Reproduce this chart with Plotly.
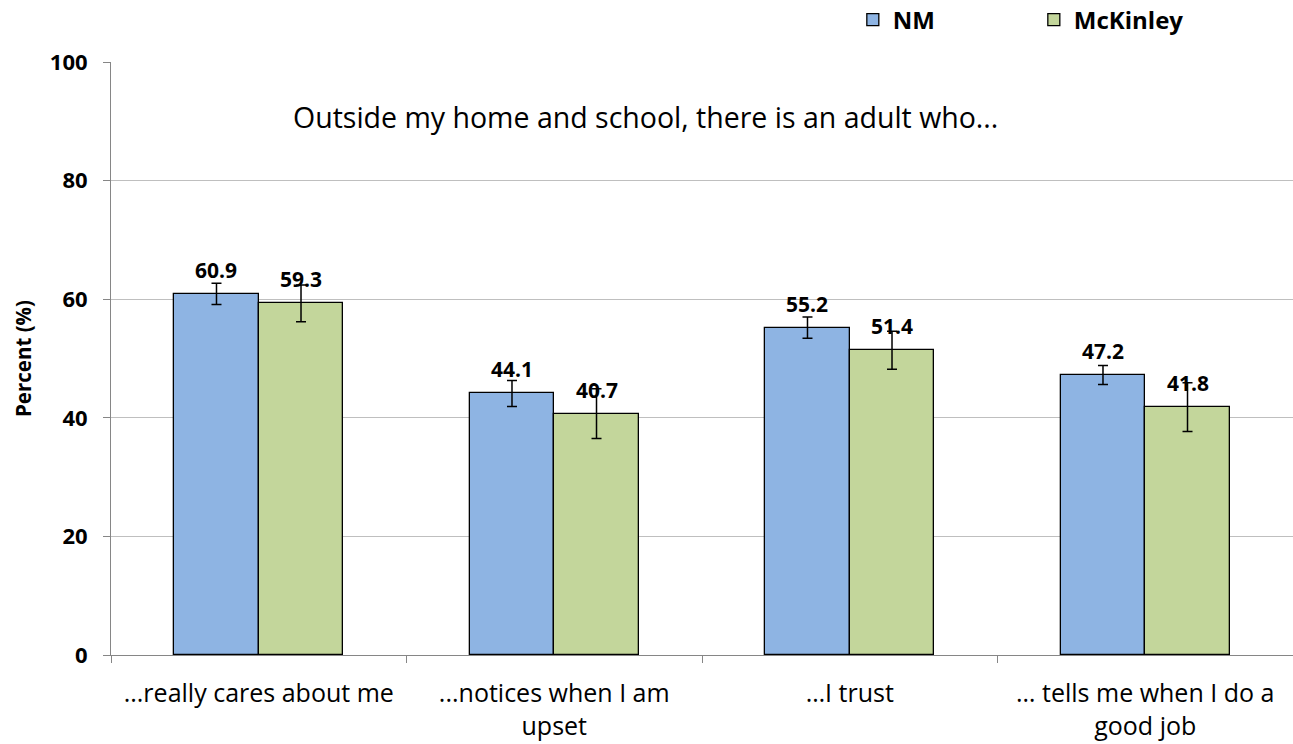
import plotly.graph_objects as go

categories = ["...really cares about me", "...notices when I am<br>upset", "…I trust", "… tells me when I do a<br>good job"]
nm_values = [60.9, 44.1, 55.2, 47.2]
nm_err = [1.8, 2.2, 1.8, 1.6]
mck_values = [59.3, 40.7, 51.4, 41.8]
mck_err = [3.1, 4.2, 3.2, 4.1]
y_ticks = [0, 20, 40, 60, 80, 100]
title_text = "Outside my home and school, there is an adult who..."

FONT = "Open Sans"
off = 0.143
w = 0.286
xs = list(range(len(categories)))

fig = go.Figure()
fig.add_trace(go.Bar(
    name="NM", x=[i - off for i in xs], y=nm_values, width=w,
    marker=dict(color="#8EB4E3", line=dict(color="black", width=1.3)),
    error_y=dict(type="data", array=nm_err, color="black", thickness=1.5, width=5),
))
fig.add_trace(go.Bar(
    name="McKinley", x=[i + off for i in xs], y=mck_values, width=w,
    marker=dict(color="#C3D69B", line=dict(color="black", width=1.3)),
    error_y=dict(type="data", array=mck_err, color="black", thickness=1.5, width=5),
))

for i in xs:
    for dx, v in ((-off, nm_values[i]), (off, mck_values[i])):
        fig.add_annotation(x=i + dx, y=v, text=f"<b>{v:.1f}</b>", showarrow=False,
                           yshift=24, font=dict(family=FONT, size=21, color="black"))

fig.add_annotation(x=0.452, xref="paper", y=90.7, yref="y", text=title_text, showarrow=False,
                   font=dict(family=FONT, size=28.5, color="black"))

fig.update_layout(
    width=1293, height=744,
    margin=dict(l=111, r=0, t=62, b=89, autoexpand=False),
    plot_bgcolor="white", paper_bgcolor="white",
    bargap=0, barmode="overlay",
    font=dict(family=FONT, color="black"),
    legend=dict(orientation="h", x=0.6276, xanchor="left", y=1.0708, yanchor="middle",
                font=dict(family=FONT, size=24, color="black", weight="bold"),
                entrywidth=136, entrywidthmode="pixels", traceorder="normal"),
    xaxis=dict(range=[-0.5, 3.5], tickvals=xs, ticktext=categories, ticks="", automargin=False,
               tickfont=dict(family=FONT, size=25, color="black"), ticklabelstandoff=16,
               showline=True, linecolor="#868686", linewidth=1, showgrid=False, zeroline=False,
               minor=dict(tickvals=[-0.5, 0.5, 1.5, 2.5, 3.5], ticks="outside", ticklen=7,
                          tickcolor="#868686", showgrid=False)),
    yaxis=dict(range=[0, 100], tickvals=y_ticks, ticks="outside", ticklen=7, tickcolor="#868686",
               automargin=False,
               tickfont=dict(family=FONT, size=22, color="black", weight="bold"), ticklabelstandoff=11,
               showline=True, linecolor="#868686", linewidth=1,
               showgrid=True, gridcolor="#BFBFBF", gridwidth=1, zeroline=False,
               title=dict(text="<b>Percent (%)</b>", font=dict(family=FONT, size=20.5, color="black"), standoff=12)),
)

fig.write_html("out.html", config={"displayModeBar": False},
               post_script="document.body.style.margin='0';document.body.style.overflow='hidden';")
